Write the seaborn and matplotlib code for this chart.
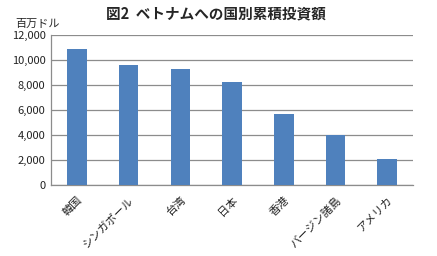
import matplotlib
matplotlib.use("Agg")
import matplotlib.pyplot as plt
import seaborn as sns
import pandas as pd

countries = ["韓国", "シンガポール", "台湾", "日本", "香港", "バージン諸島", "アメリカ"]
values = [10850, 9620, 9250, 8220, 5650, 4000, 2100]
yticks = [0, 2000, 4000, 6000, 8000, 10000, 12000]
title = "図2  ベトナムへの国別累積投資額"
unit = "百万ドル"

sns.set_theme(style="white")
plt.rcParams['font.family'] = ['Noto Sans CJK JP', 'DejaVu Sans']

df = pd.DataFrame({"country": countries, "value": values})

fig = plt.figure(figsize=(4.37, 2.56), dpi=100)
ax = fig.add_axes([0.117, 0.277, 0.828, 0.587])
sns.barplot(data=df, x="country", y="value", color="#4F81BD", width=0.38,
            saturation=1, ax=ax, zorder=3, edgecolor="none")
ax.set_ylim(0, 12000)
ax.set_xlim(-0.5, len(countries) - 0.5)
ax.set_yticks(yticks)
ax.set_yticklabels([f"{v:,}" for v in yticks], fontsize=8, color="#222222")
ax.set_xticks(range(len(countries)))
ax.set_xticklabels(countries, rotation=45, ha="right", rotation_mode="anchor",
                   fontsize=8, color="#222222")
ax.tick_params(axis="x", length=0, pad=7)
ax.tick_params(axis="y", length=0, pad=4)
ax.set_xlabel("")
ax.set_ylabel("")
ax.yaxis.grid(True, color="#8c8c8c", linewidth=0.9, zorder=0)
ax.set_axisbelow(True)
for s in ["top", "right"]:
    ax.spines[s].set_visible(False)
for s in ["left", "bottom"]:
    ax.spines[s].set_color("#8c8c8c")
    ax.spines[s].set_linewidth(0.9)

fig.text(0.495, 0.948, title, ha="center", va="center", fontsize=10.5, fontweight="bold")
fig.text(0.035, 0.905, unit, ha="left", va="center", fontsize=8)

fig.savefig("out.png", dpi=100)
